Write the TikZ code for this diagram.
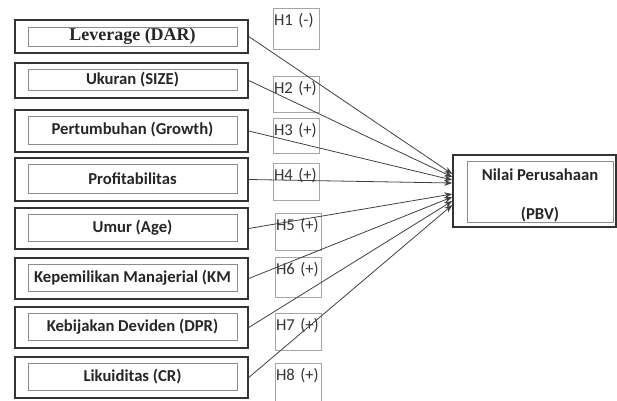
\documentclass[tikz,border=0pt]{standalone}
\usepackage{fontspec}
\setmainfont{Carlito}
\newfontfamily\levfont{Liberation Serif}
\usetikzlibrary{arrows.meta,calc}

\begin{document}
\begin{tikzpicture}[
    x=0.75pt, y=-0.75pt,
    varbox/.style={rectangle, draw=black!80, line width=1.1pt, minimum width=174.75pt, inner sep=0pt},
    varin/.style={rectangle, draw=black!45, line width=0.5pt, minimum width=156.75pt, inner sep=0pt,
        font=\fontsize{12.5}{15}\selectfont\bfseries, text=black!85},
    hypbox/.style={rectangle, draw=black!35, line width=0.5pt, anchor=north west, inner sep=0.5pt,
        text width=33.5pt, text height=12pt, text depth=#1, align=left,
        font=\fontsize{12.5}{15}\selectfont, text=black!80},
    arrow/.style={-{Stealth[length=6pt, width=4.5pt]}, draw=black!75, line width=0.6pt}
]
    \useasboundingbox (0,0) rectangle (617,400);

    % Independent variables
    \node[varbox, minimum height=24.75pt] (v1) at (131.5,36.5) {};
    \node[varin, minimum height=14.25pt, font=\levfont\fontsize{13.5}{16}\selectfont\bfseries] (v1t) at (132.5,36.5) {Leverage (DAR)};
    \node[varbox, minimum height=26.25pt] (v2) at (131.5,80.5) {};
    \node[varin, minimum height=15.75pt] (v2t) at (132.5,80) {Ukuran (SIZE)};
    \node[varbox, minimum height=31.5pt] (v3) at (131.5,131) {};
    \node[varin, minimum height=21pt] (v3t) at (132.5,130) {Pertumbuhan (Growth)};
    \node[varbox, minimum height=32.25pt] (v4) at (131.5,179.5) {};
    \node[varin, minimum height=21.75pt] (v4t) at (132.5,178.5) {Profitabilitas};
    \node[varbox, minimum height=30.75pt] (v5) at (131.5,228.5) {};
    \node[varin, minimum height=20.25pt] (v5t) at (132.5,227.5) {Umur (Age)};
    \node[varbox, minimum height=30.75pt] (v6) at (131.5,278.5) {};
    \node[varin, minimum height=20.25pt] (v6t) at (132.5,277.5) {Kepemilikan Manajerial (KM};
    \node[varbox, minimum height=30.75pt] (v7) at (131.5,327.5) {};
    \node[varin, minimum height=20.25pt] (v7t) at (132.5,326.5) {Kebijakan Deviden (DPR)};
    \node[varbox, minimum height=30.75pt] (v8) at (131.5,377.5) {};
    \node[varin, minimum height=20.25pt] (v8t) at (132.5,376.5) {Likuiditas (CR)};

    % Hypotheses
    \node[hypbox=17.75pt] (h1) at (273,8) {H1 (-)};
    \node[hypbox=14pt] (h2) at (273,76) {H2 (+)};
    \node[hypbox=13.25pt] (h3) at (273,118) {H3 (+)};
    \node[hypbox=14.75pt] (h4) at (273,163) {H4 (+)};
    \node[hypbox=14.75pt] (h5) at (275,213) {H5 (+)};
    \node[hypbox=17pt] (h6) at (275,257) {H6 (+)};
    \node[hypbox=14.75pt] (h7) at (275,313) {H7 (+)};
    \node[hypbox=16.25pt] (h8) at (275,363) {H8 (+)};

    % Dependent variable
    \node[varbox, minimum width=122.25pt, minimum height=54pt] (p) at (534.5,191) {};
    \node[varin, minimum width=109.5pt, minimum height=42.75pt, align=center] (pt) at (540,191.5)
        {\rule{0pt}{15pt}Nilai Perusahaan\\[14pt](PBV)};

    \draw[arrow] (v1.east) -- ($(p.west)+(0,-17)$);
    \draw[arrow] (v2.east) -- ($(p.west)+(0,-14)$);
    \draw[arrow] (v3.east) -- ($(p.west)+(0,-11)$);
    \draw[arrow] (v4.east) -- ($(p.west)+(0,-8)$);
    \draw[arrow] (v5.east) -- ($(p.west)+(0,3)$);
    \draw[arrow] (v6.east) -- ($(p.west)+(0,6)$);
    \draw[arrow] (v7.east) -- ($(p.west)+(0,10)$);
    \draw[arrow] (v8.east) -- ($(p.west)+(0,14)$);
\end{tikzpicture}
\end{document}
